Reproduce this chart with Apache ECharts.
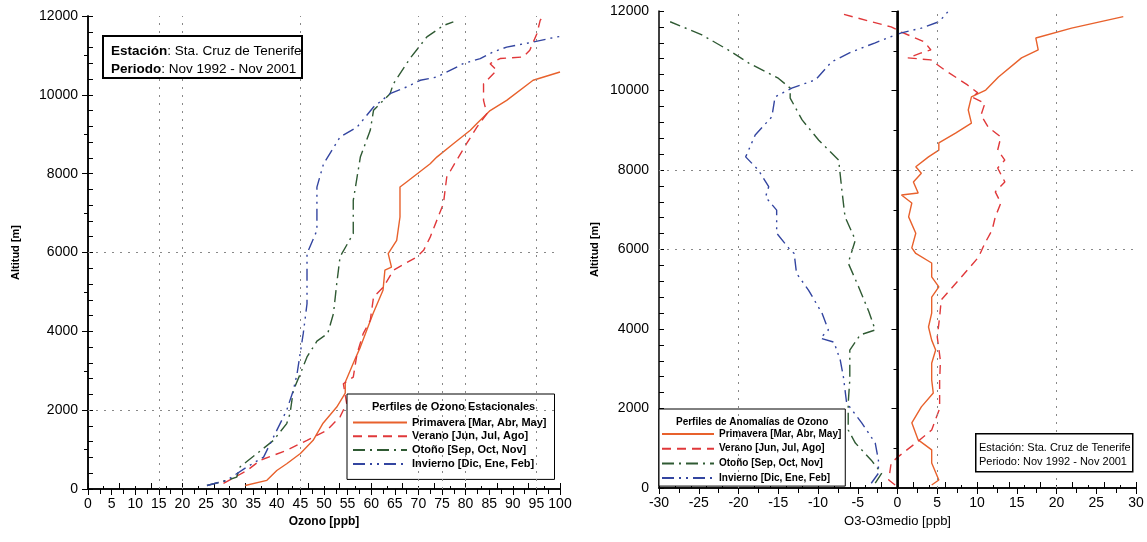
<!DOCTYPE html>
<html>
<head>
<meta charset="utf-8">
<script src="https://cdn.jsdelivr.net/npm/echarts@6/dist/echarts.min.js"></script>
<style>
html,body{margin:0;padding:0;background:#fff;}
#chart{width:1147px;height:542px;}
</style>
</head>
<body>
<div id="chart"></div>
<script>
// ---------- DATA ----------
const seasonNames = ['Primavera [Mar, Abr, May]', 'Verano [Jun, Jul, Ago]', 'Otoño [Sep, Oct, Nov]', 'Invierno [Dic, Ene, Feb]'];

// Left panel: seasonal ozone profiles [ozone ppb, altitude m]
const primaveraOzono = [[33.3,90],[37.9,220],[40,470],[42.1,640],[45,900],[47.7,1235],[49.8,1670],[52.7,2080],[54.5,2430],[54.5,2710],[56.2,3190],[57.7,3600],[60.4,4450],[62.5,5040],[62.9,5550],[64.3,5630],[63.6,5970],[65.4,6310],[66.1,6900],[66.1,7660],[67.5,7790],[72.5,8250],[73.9,8420],[77.4,8760],[81,9100],[82.4,9270],[85.2,9600],[88.7,9860],[94.3,10370],[100,10580]];
const veranoOzono = [[28.7,140],[33.7,470],[36.5,730],[42.1,980],[46.4,1235],[50.6,1490],[53.4,1830],[54.8,2170],[54.1,2670],[56.2,2840],[57,3430],[58.3,3940],[59.8,4280],[60.5,4870],[62.6,5125],[64.7,5550],[69.7,5890],[71.1,6055],[72.5,6390],[75.3,7240],[76,7910],[78.1,8340],[80.2,8760],[82.4,9180],[84.5,9520],[83.8,9860],[83.8,10280],[86.6,10620],[85.2,10790],[87.3,10920],[92.2,10960],[93.6,11130],[95.1,11550],[95.8,11890],[96.5,12000]];
const otonoOzono = [[25.2,90],[29.4,220],[31.5,300],[32.2,560],[35.8,900],[39.3,1235],[42.1,1660],[42.8,1910],[43.5,2500],[45,2930],[46.4,3350],[48.5,3750],[50.8,3950],[52,4450],[52.7,5210],[53.4,5890],[56.2,6480],[56.2,7320],[57.7,8420],[59.8,9100],[60.5,9610],[64,10030],[64.7,10280],[68.2,10920],[71.8,11470],[75.3,11760],[77.4,11850]];
const inviernoOzono = [[25.2,90],[29.4,220],[33.7,560],[37.2,810],[40.7,1660],[42.1,2000],[43.5,2500],[44.3,2930],[45.6,3940],[46.4,4700],[46.4,5380],[46.4,5970],[48.5,6560],[48.5,7660],[49.9,8250],[53.4,8930],[57,9180],[60.5,9690],[64,10030],[67.5,10200],[70.4,10370],[73.9,10450],[79.5,10790],[83.1,10920],[85.9,11090],[88.7,11210],[94.3,11340],[99.3,11470],[100,11480]];

// Right panel: anomaly profiles [O3 - O3medio ppb, altitude m]
const primaveraAnom = [[4.3,75],[5.2,200],[4.3,630],[4.3,960],[2.6,1210],[1.8,1640],[3,2040],[4.5,2390],[4.3,2720],[4.3,3140],[4.8,3470],[4.3,3720],[3.9,4050],[4.3,4400],[4.3,4800],[5.2,5060],[4.3,5310],[4.3,5660],[2.3,5900],[1.8,6040],[2.3,6410],[1.4,6820],[1.8,7170],[0.5,7370],[2.6,7420],[2,7700],[3,7920],[2.3,8080],[3.9,8330],[5.2,8500],[5.2,8680],[7.3,8930],[9.3,9180],[8.9,9510],[9.3,9840],[11.1,10010],[12.7,10340],[15.6,10820],[17.7,11020],[17.4,11320],[21.9,11570],[28.4,11860]];
const veranoAnom = [[-0.3,75],[-1.1,200],[-0.8,630],[0.1,790],[2.3,1130],[4.3,1460],[5.3,2000],[5.3,2700],[5.4,3200],[5.0,3800],[5.3,4300],[5.5,4730],[7.7,5230],[10.2,5810],[11,6160],[11.9,6490],[12.3,6820],[13,7170],[12.3,7450],[13.5,7700],[12.6,8050],[13.5,8250],[12.6,8500],[13,8830],[11.4,9080],[10.5,9380],[11,9680],[9.3,9840],[10.1,9940],[8.8,10140],[5.9,10520],[4.2,10770],[1.3,10820],[2.9,10940],[4.2,11020],[3.4,11220],[0.5,11470],[-0.8,11600],[-3.3,11730],[-7.4,11950]];
const otonoAnom = [[-2.8,120],[-2,370],[-3.3,700],[-5.3,1130],[-6.2,1460],[-6.2,2140],[-6,2720],[-6,3470],[-4.7,3850],[-2.8,3975],[-3.6,4435],[-4.9,5065],[-6.2,5660],[-5.3,6240],[-6.6,6820],[-7,7500],[-7.4,8250],[-9.9,8750],[-12,9260],[-13.5,9810],[-13.5,10060],[-15,10310],[-18.7,10690],[-21.3,11020],[-24.6,11400],[-28.6,11730]];
const inviernoAnom = [[-3.3,120],[-2.4,370],[-2.4,700],[-2.8,1130],[-4.5,1640],[-6.4,2140],[-6.8,2790],[-7.2,3220],[-8,3670],[-9.7,3770],[-8.7,3975],[-9.5,4400],[-11.2,4980],[-12.7,5400],[-13,5900],[-13.7,6040],[-15.2,6410],[-15.2,6990],[-16.6,7320],[-16.2,7580],[-17.5,8000],[-19.1,8330],[-17.9,8880],[-15.8,9340],[-15.4,9840],[-13.3,10060],[-10.3,10270],[-8.3,10720],[-5.8,10970],[-2.8,11200],[-0.25,11400],[0.5,11450],[3,11570],[5.2,11730],[6,11900],[6.4,12000]];

// reference (grid) lines seen in the scan
const leftGridX = [15, 20, 45, 70, 75, 80, 95];
const leftGridY = [2000, 6000];
const rightGridX = [-20, 5, 20];
const rightGridY = [6000, 8000];

// ---------- STYLES ----------
const FONT = "'Liberation Sans', Arial, sans-serif";
const seasonStyles = [
  {color:'#e8612c', width:1.4, type:'solid'},
  {color:'#e0383a', width:1.4, type:[9,6]},
  {color:'#2f5a33', width:1.4, type:[12,5,2,5]},
  {color:'#3345a0', width:1.4, type:[12,5,2,5,2,5]}
];

function lineSeries(name, data, idx, style) {
  return {
    type:'line', name:name, data:data, xAxisIndex:idx, yAxisIndex:idx*2,
    symbol:'none', showSymbol:false, smooth:false,
    lineStyle:{color:style.color, width:style.width, type:style.type},
    itemStyle:{color:style.color},
    z:3
  };
}

function gridMarkSeries(idx, xs, ys, extra) {
  const data = xs.map(v => ({xAxis:v})).concat(ys.map(v => ({yAxis:v})));
  return {
    type:'line', name:'_grid'+idx, data:[], xAxisIndex:idx, yAxisIndex:idx*2,
    markLine:{
      silent:true, symbol:['none','none'], label:{show:false}, animation:false,
      lineStyle:{color:'#888', width:1, type:[2,6]},
      data: data.concat(extra || [])
    },
    z:1
  };
}

const axisLineStyle = {lineStyle:{color:'#000', width:1.5}};
const labelStyle = {color:'#000', fontSize:14, fontFamily:FONT};

function bottomAxis(grid, min, max, name, nameStyle) {
  return {
    gridIndex:grid, type:'value', position:'bottom', min:min, max:max, interval:5,
    axisLine:axisLineStyle,
    axisTick:{show:true, inside:false, length:6, lineStyle:{color:'#000', width:1}},
    minorTick:{show:true, splitNumber:2, length:5, lineStyle:{color:'#000', width:1}},
    axisLabel:Object.assign({margin:8, formatter:v => String(v)}, labelStyle),
    splitLine:{show:false}, minorSplitLine:{show:false},
    name:name, nameLocation:'middle', nameGap:22, nameTextStyle:nameStyle
  };
}
function topAxis(grid) {
  return {
    gridIndex:grid, type:'value', position:'top', min:0, max:15, interval:1,
    axisLine:axisLineStyle,
    axisTick:{show:true, inside:false, length:6, lineStyle:{color:'#000', width:1}},
    minorTick:{show:true, splitNumber:2, length:3, lineStyle:{color:'#000', width:1}},
    axisLabel:{show:false}, splitLine:{show:false}
  };
}
function leftAxis(grid, name, gap) {
  return {
    gridIndex:grid, type:'value', position:'left', min:0, max:12000, interval:2000,
    axisLine:axisLineStyle,
    axisTick:{show:true, inside:false, length:6, lineStyle:{color:'#000', width:1}},
    minorTick:{show:true, splitNumber:2, length:4, lineStyle:{color:'#000', width:1}},
    axisLabel:Object.assign({margin:10, formatter:v => String(v)}, labelStyle),
    splitLine:{show:false}, minorSplitLine:{show:false},
    name:name, nameLocation:'middle', nameGap:gap, nameRotate:90,
    nameTextStyle:{color:'#000', fontSize:11, fontWeight:'bold', fontFamily:FONT}
  };
}
function rightAxis(grid) {
  return {
    gridIndex:grid, type:'value', position:'right', min:0, max:12000, interval:400,
    axisLine:axisLineStyle,
    axisTick:{show:true, inside:false, length:5, lineStyle:{color:'#000', width:1}},
    axisLabel:{show:false}, splitLine:{show:false}
  };
}

const chart = echarts.init(document.getElementById('chart'), null, {renderer:'canvas'});

const option = {
  animation:false,
  backgroundColor:'#fff',
  textStyle:{fontFamily:FONT},
  grid:[
    {left:88, top:16, width:472, height:473},
    {left:659, top:11, width:477, height:477}
  ],
  xAxis:[
    bottomAxis(0, 0, 100, 'Ozono [ppb]', {color:'#000', fontSize:12, fontWeight:'bold', fontFamily:FONT}),
    bottomAxis(1, -30, 30, 'O3-O3medio [ppb]', {color:'#000', fontSize:13, fontFamily:FONT}),
    topAxis(0),
    topAxis(1)
  ],
  yAxis:[
    leftAxis(0, 'Altitud [m]', 67),
    rightAxis(0),
    leftAxis(1, 'Altitud [m]', 59),
    rightAxis(1)
  ],
  legend:[
    {
      data:seasonNames, orient:'vertical', left:347, top:394,
      padding:[23,8,10,5], itemGap:2.8, itemWidth:54, itemHeight:12,
      borderColor:'#000', borderWidth:1, backgroundColor:'#fff',
      selectedMode:false, itemStyle:{opacity:0},
      textStyle:{color:'#000', fontSize:11, fontWeight:'bold', fontFamily:FONT}
    },
    {
      data:seasonNames, orient:'vertical', left:659, top:409,
      padding:[20,4,3,2], itemGap:4.7, itemWidth:52, itemHeight:12,
      borderColor:'#000', borderWidth:1, backgroundColor:'#fff',
      selectedMode:false, itemStyle:{opacity:0},
      textStyle:{color:'#000', fontSize:10, fontWeight:'bold', fontFamily:FONT}
    }
  ],
  graphic:[
    {type:'text', left:372, top:401, z:100,
     style:{text:'Perfiles de Ozono Estacionales', fill:'#000', font:"bold 11px 'Liberation Sans', Arial, sans-serif"}},
    {type:'text', left:676, top:417, z:100,
     style:{text:'Perfiles de Anomalías de Ozono', fill:'#000', font:"bold 10px 'Liberation Sans', Arial, sans-serif"}},
    {type:'rect', left:102, top:35, z:90,
     shape:{width:199, height:42}, style:{fill:'#fff', stroke:'#000', lineWidth:2}},
    {type:'text', left:111, top:42, z:100,
     style:{text:'{b|Estación}: Sta. Cruz de Tenerife\n{b|Periodo}: Nov 1992 - Nov 2001',
            fill:'#000', font:"13.5px 'Liberation Sans', Arial, sans-serif", lineHeight:18,
            rich:{b:{fontWeight:'bold', fontSize:13.5, fontFamily:FONT, fill:'#000', lineHeight:18}}}},
    {type:'rect', left:975, top:433, z:90,
     shape:{width:157, height:38}, style:{fill:'#fff', stroke:'#000', lineWidth:1.5}},
    {type:'text', left:979, top:441, z:100,
     style:{text:'Estación: Sta. Cruz de Tenerife\nPeriodo: Nov 1992 - Nov 2001',
            fill:'#000', font:"11px 'Liberation Sans', Arial, sans-serif", lineHeight:14}}
  ],
  series:[
    gridMarkSeries(0, leftGridX, leftGridY),
    gridMarkSeries(1, rightGridX, rightGridY, [{xAxis:0, lineStyle:{color:'#000', width:2.5, type:'solid'}}]),
    lineSeries(seasonNames[0], primaveraOzono, 0, seasonStyles[0]),
    lineSeries(seasonNames[1], veranoOzono, 0, seasonStyles[1]),
    lineSeries(seasonNames[2], otonoOzono, 0, seasonStyles[2]),
    lineSeries(seasonNames[3], inviernoOzono, 0, seasonStyles[3]),
    lineSeries(seasonNames[0], primaveraAnom, 1, seasonStyles[0]),
    lineSeries(seasonNames[1], veranoAnom, 1, seasonStyles[1]),
    lineSeries(seasonNames[2], otonoAnom, 1, seasonStyles[2]),
    lineSeries(seasonNames[3], inviernoAnom, 1, seasonStyles[3])
  ]
};
chart.setOption(option);
</script>
</body>
</html>
